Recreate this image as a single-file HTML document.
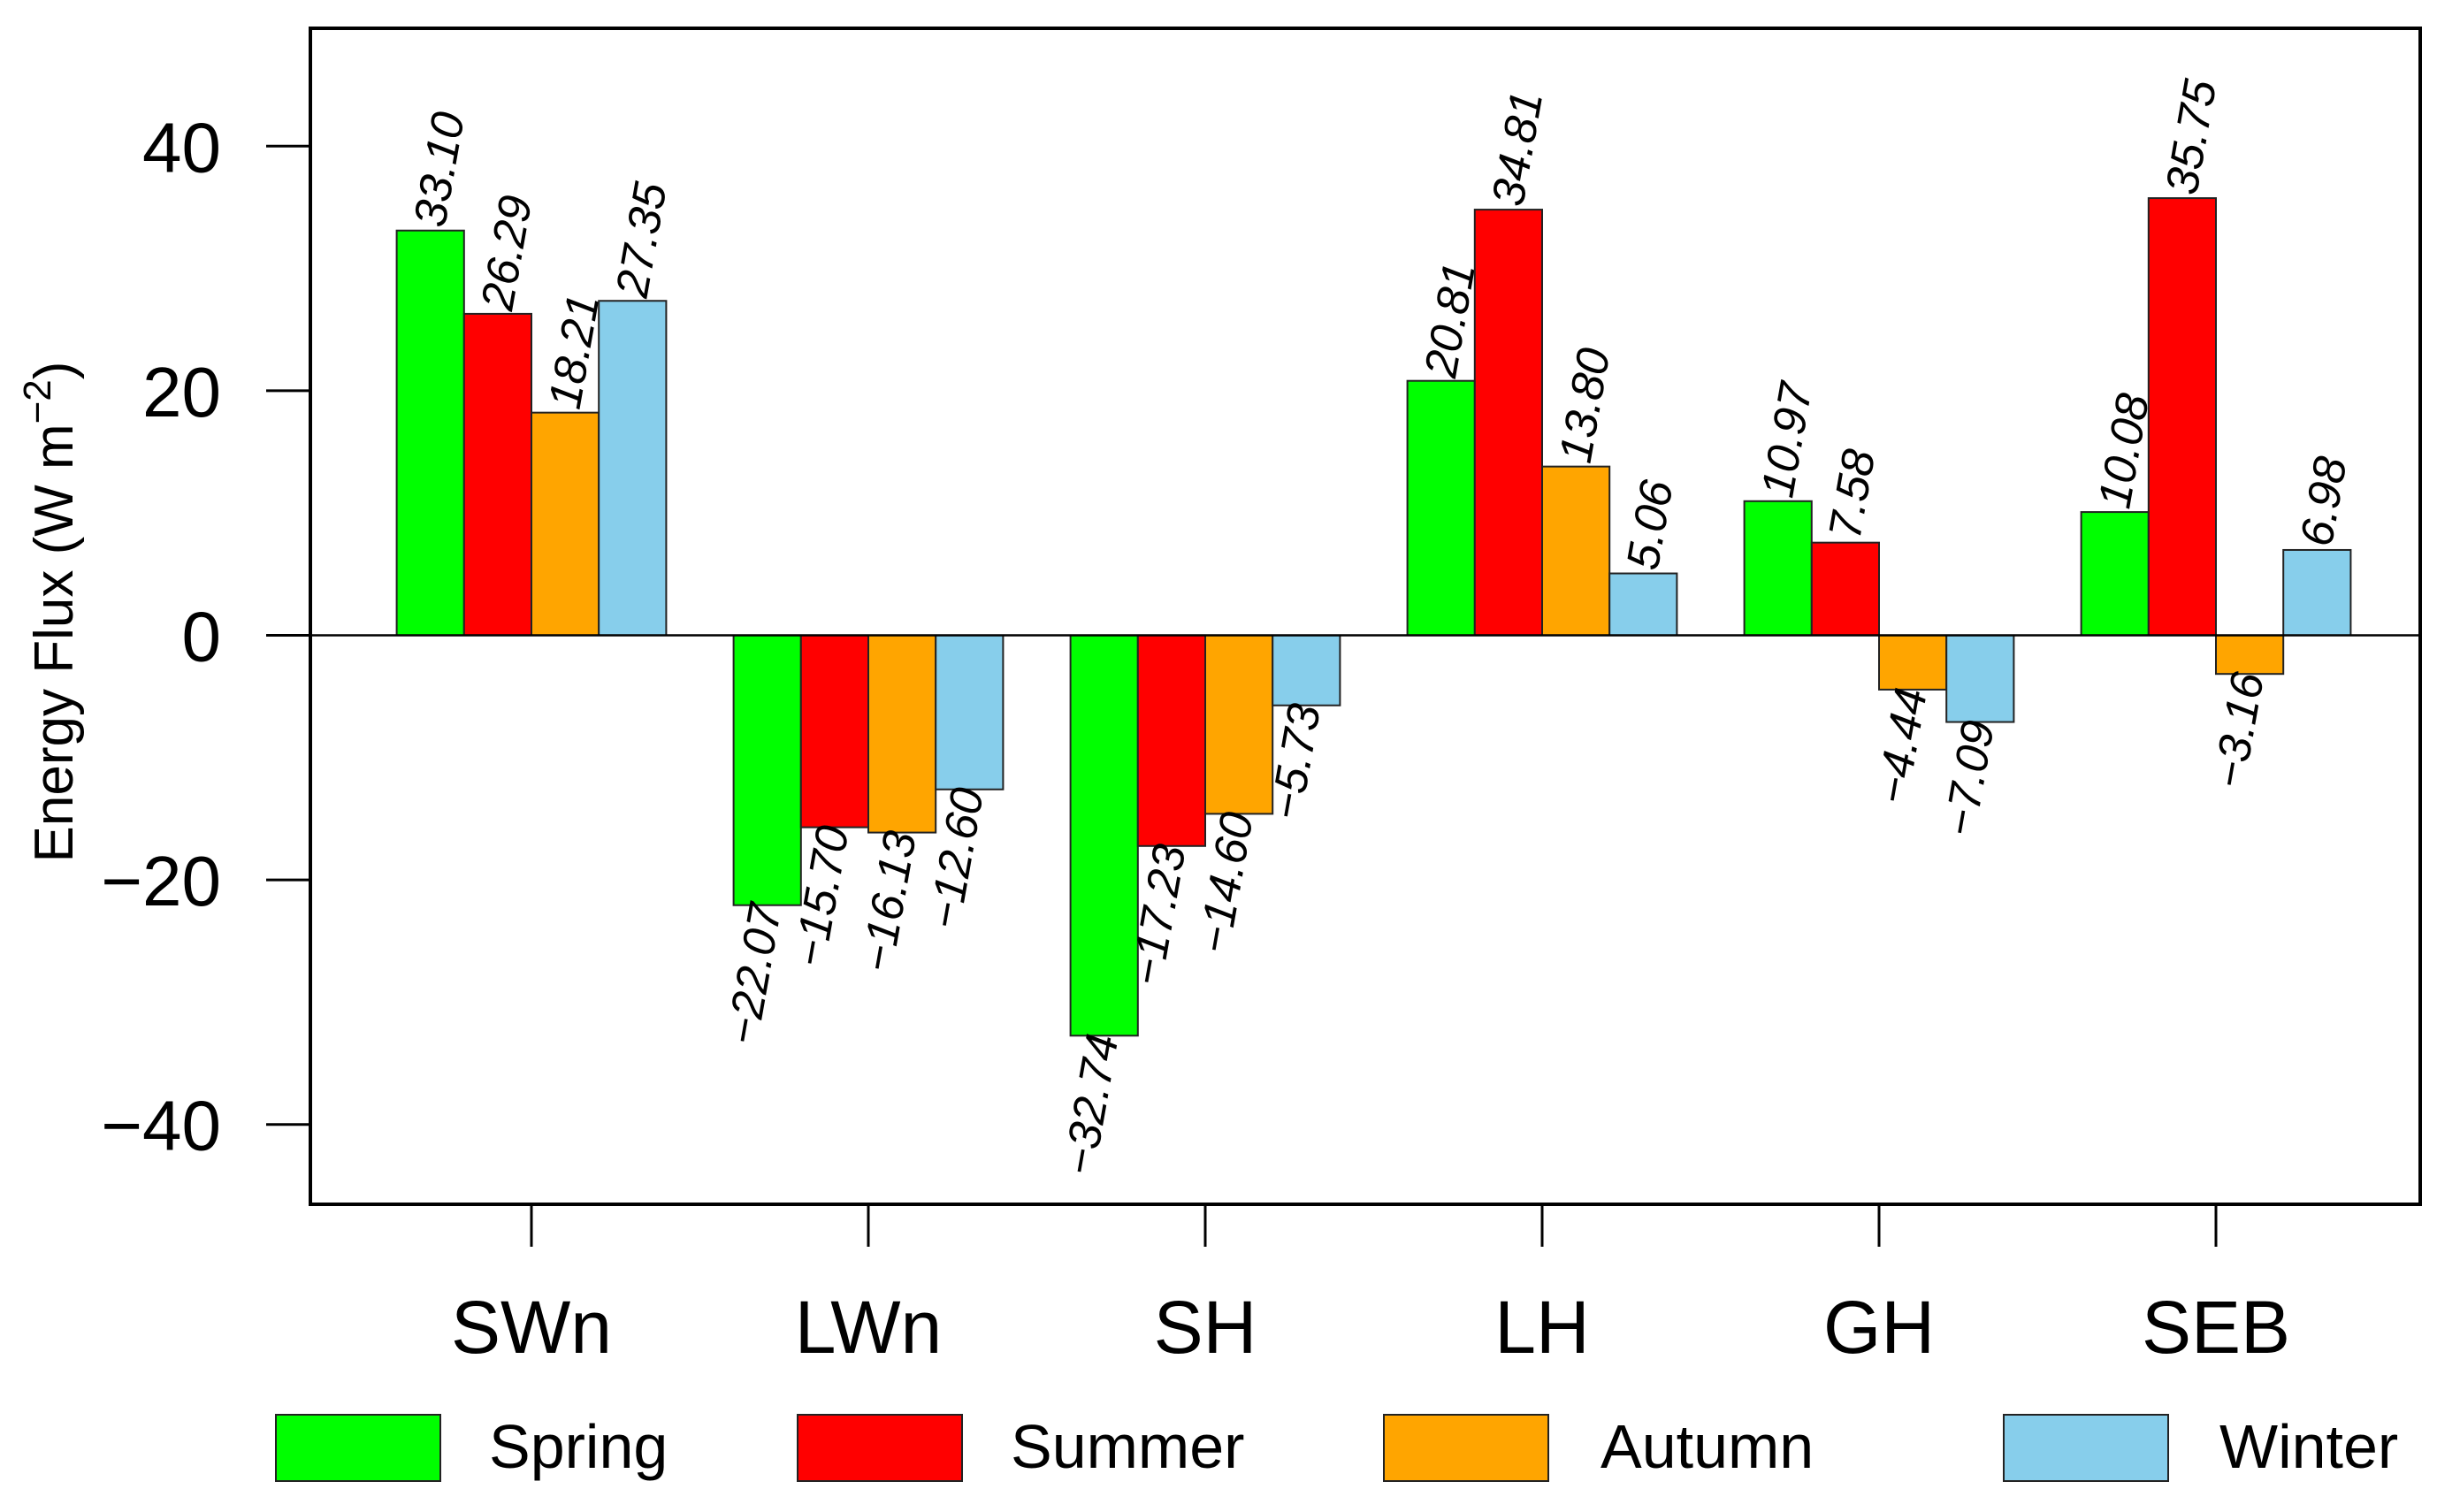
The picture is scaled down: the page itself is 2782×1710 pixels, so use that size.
<!DOCTYPE html>
<html><head><meta charset="utf-8"><style>html,body{margin:0;padding:0;background:#fff}svg{display:block}text{font-family:"Liberation Sans",sans-serif}</style></head>
<body>
<svg id="chart" width="2782" height="1710" viewBox="0 0 2782 1710" xmlns="http://www.w3.org/2000/svg"></svg>
<script>
const categories = ["SWn","LWn","SH","LH","GH","SEB"];
const seasons = ["Spring","Summer","Autumn","Winter"];
const colors = ["#00ff00","#ff0000","#ffa500","#87ceeb"];
const spring = [33.10,-22.07,-32.74,20.81,10.97,10.08];
const summer = [26.29,-15.70,-17.23,34.81,7.58,35.75];
const autumn = [18.21,-16.13,-14.60,13.80,-4.44,-3.16];
const winter = [27.35,-12.60,-5.73,5.06,-7.09,6.98];
const yTicks = [-40,-20,0,20,40];
const series = [spring,summer,autumn,winter];

const NS="http://www.w3.org/2000/svg";
const svg=document.getElementById('chart');
const L=351,R=2737,T=32,B=1362;
function y(v){return 718.5 - v*13.83;}
const groupW=381, barW=76.2;
function groupCenter(i){return 601 + i*groupW;}
function mk(tag,attrs,parent){const e=document.createElementNS(NS,tag);for(const k in attrs)e.setAttribute(k,attrs[k]);(parent||svg).appendChild(e);return e;}

let box=mk('rect',{x:L,y:T,width:R-L,height:B-T,fill:'none',stroke:'#000','stroke-width':4});



categories.forEach((c,i)=>{
  series.forEach((s,j)=>{
    const v=s[i];
    const x0=groupCenter(i)-2*barW+j*barW;
    const y0=Math.min(y(v),y(0)), h=Math.abs(y(v)-y(0));
    const r=mk('rect',{x:x0,y:y0,width:barW,height:h,fill:colors[j],stroke:'#222','stroke-width':2});
    
    
    const cx=x0+barW/2;
    const ty=y(v);
    const t=mk('text',{x:0,y:0,'font-size':52,'font-style':'italic',transform:`translate(${cx+16},${ty+(v>=0?-2:2)}) rotate(-80)`,'text-anchor':v>=0?'start':'end'});
    t.textContent=(v<0?'\u2212':'')+Math.abs(v).toFixed(2);
    
    
  });
  const tk=mk('line',{x1:groupCenter(i),x2:groupCenter(i),y1:B,y2:B+48,stroke:'#000','stroke-width':3});
  
  
  const lab=mk('text',{x:groupCenter(i),y:1530,'font-size':84,'text-anchor':'middle'});
  lab.textContent=c;
  
  
});

let zl=mk('line',{x1:L,x2:R,y1:y(0),y2:y(0),stroke:'#000','stroke-width':2.5});



yTicks.forEach(v=>{
  const l=mk('line',{x1:301,x2:L,y1:y(v),y2:y(v),stroke:'#000','stroke-width':3});
  
  
  const t=mk('text',{x:250,y:y(v)+29,'font-size':80,'text-anchor':'end'});
  t.textContent=v<0?'\u2212'+Math.abs(v):String(v);
  
  
});

const yt=mk('text',{x:0,y:0,'font-size':62,'text-anchor':'middle',transform:'translate(82,692) rotate(-90)'});
yt.innerHTML='Energy Flux (W m<tspan font-size="44" dy="-25">\u22122</tspan><tspan dy="25">)</tspan>';



const legBox=[312,902,1565,2266], legText=[553,1143,1810,2510];
seasons.forEach((s,j)=>{
  const r=mk('rect',{x:legBox[j],y:1600,width:186,height:75,fill:colors[j],stroke:'#222','stroke-width':2});
  
  
  const t=mk('text',{x:legText[j],y:1660,'font-size':70});
  t.textContent=s;
  
  
});
</script>
</body></html>
